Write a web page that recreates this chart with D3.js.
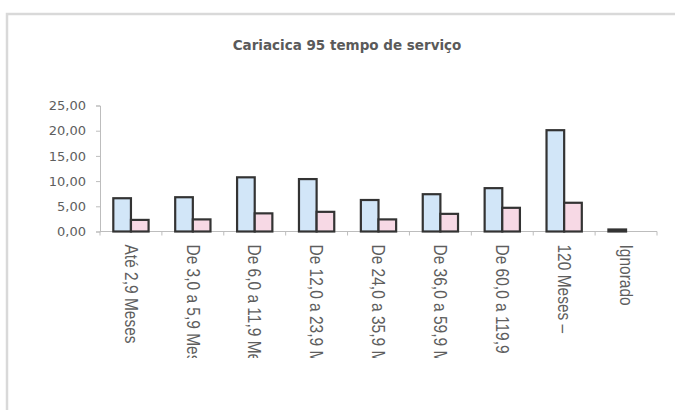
<!DOCTYPE html>
<html>
<head>
<meta charset="utf-8">
<script src="https://cdn.jsdelivr.net/npm/d3@7/dist/d3.min.js"></script>
<style>
  html, body { margin: 0; padding: 0; background: #fff; }
  svg { display: block; }
</style>
</head>
<body>
<svg id="chart" width="675" height="410"></svg>
<script>
const title = "Cariacica 95 tempo de serviço";
const categories = [
  "Até 2,9 Meses",
  "De 3,0 a 5,9 Meses",
  "De 6,0 a 11,9 Meses",
  "De 12,0 a 23,9 Meses",
  "De 24,0 a 35,9 Meses",
  "De 36,0 a 59,9 Meses",
  "De 60,0 a 119,9 Meses",
  "120 Meses –",
  "Ignorado"
];
const seriesNames = ["Série 1", "Série 2"];
const series1 = [6.6, 6.8, 10.75, 10.4, 6.25, 7.4, 8.6, 20.1, 0.4];
const series2 = [2.3, 2.4, 3.6, 3.9, 2.4, 3.5, 4.7, 5.7, 0];
const yTicks = [0, 5, 10, 15, 20, 25];
const colors = ["#d2e6f8", "#f7d9e5"];

const svg = d3.select("#chart");

// clip for truncated category labels
svg.append("defs").append("clipPath").attr("id", "labelClip")
  .append("rect").attr("x", 0).attr("y", 0).attr("width", 675).attr("height", 358);

// outer frame (partial, light gray)
svg.append("path")
  .attr("d", "M7,410 L7,14 L675,14")
  .attr("fill", "none")
  .attr("stroke", "#d9d9d9")
  .attr("stroke-width", 2.5);

const plotLeft = 100, plotRight = 657, plotTop = 105.5, plotBottom = 231.5;

const x0 = d3.scaleBand().domain(categories).range([plotLeft, plotRight]).padding(0);
const groupW = x0.bandwidth() * 0.57;
const x1 = d3.scaleBand().domain(seriesNames).range([0, groupW]).padding(0);
const y = d3.scaleLinear().domain([0, 25]).range([plotBottom, plotTop]);

// title
svg.append("text")
  .attr("x", 347)
  .attr("y", 50)
  .attr("text-anchor", "middle")
  .attr("font-family", "DejaVu Sans")
  .attr("font-weight", "bold")
  .attr("font-size", 13.5)
  .attr("fill", "#5a5a5a")
  .text(title);

// y axis
const fmt = d => d3.format(".2f")(d).replace(".", ",");
const yAxis = svg.append("g")
  .attr("transform", `translate(${plotLeft},0)`)
  .call(d3.axisLeft(y).tickValues(yTicks).tickSize(4).tickPadding(10).tickFormat(fmt));
yAxis.select(".domain").attr("stroke", "#bdbdbd");
yAxis.selectAll(".tick line").attr("stroke", "#bdbdbd");
yAxis.selectAll(".tick text")
  .attr("font-family", "DejaVu Sans")
  .attr("font-size", 13)
  .attr("fill", "#5e5e5e");

// x axis line + boundary ticks
const xAxisG = svg.append("g").attr("transform", `translate(0,${plotBottom})`);
xAxisG.append("line")
  .attr("x1", plotLeft).attr("x2", plotRight)
  .attr("stroke", "#bdbdbd");
const boundaries = categories.map(c => x0(c)).concat([x0(categories[categories.length - 1]) + x0.bandwidth()]);
xAxisG.selectAll("line.bt").data(boundaries).enter().append("line")
  .attr("class", "bt")
  .attr("x1", d => d).attr("x2", d => d)
  .attr("y1", 0).attr("y2", 4)
  .attr("stroke", "#bdbdbd");

// category labels (rotated, truncated by the clip like the original)
const labelG = svg.append("g").attr("clip-path", "url(#labelClip)");
labelG.selectAll("text.cat").data(categories).enter().append("text")
  .attr("class", "cat")
  .attr("transform", d => `translate(${x0(d) + x0.bandwidth() / 2},${plotBottom + 13}) rotate(90) scale(1,1.15)`)
  .attr("dy", "0.35em")
  .attr("text-anchor", "start")
  .attr("font-family", "Liberation Sans, Arial, sans-serif")
  .attr("font-size", 15.5)
  .attr("fill", "#5e5e5e")
  .text(d => d);

// bars
const data = categories.map((c, i) => ({ cat: c, vals: [series1[i], series2[i]] }));
const groups = svg.append("g").selectAll("g").data(data).enter().append("g")
  .attr("transform", d => `translate(${x0(d.cat) + (x0.bandwidth() - groupW) / 2},0)`);
groups.selectAll("rect")
  .data(d => d.vals.map((v, j) => ({ name: seriesNames[j], v: v, j: j })).filter(e => e.v > 0))
  .enter().append("rect")
  .attr("x", d => x1(d.name))
  .attr("width", x1.bandwidth())
  .attr("y", d => y(d.v))
  .attr("height", d => y(0) - y(d.v))
  .attr("fill", d => colors[d.j])
  .attr("stroke", "#333")
  .attr("stroke-width", 2.2);
</script>
</body>
</html>
